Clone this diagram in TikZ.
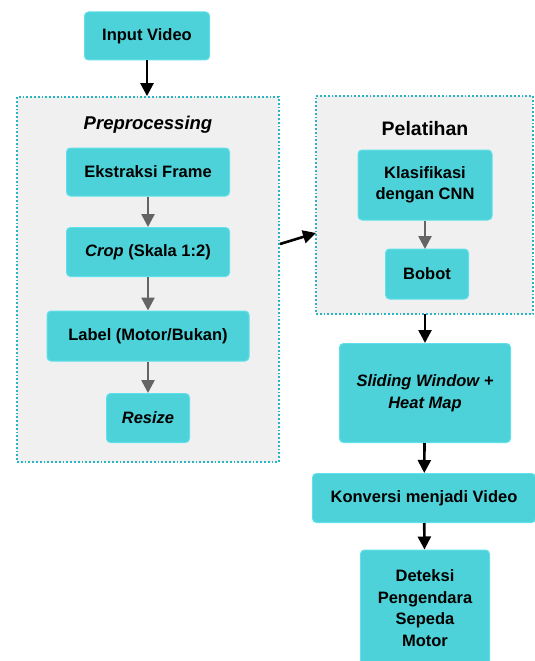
\documentclass[tikz,border=0pt]{standalone}
\usepackage{fontspec}
\setmainfont{Liberation Sans}
\usetikzlibrary{arrows.meta, positioning}
\definecolor{boxteal}{RGB}{76,210,216}
\definecolor{boxedge}{RGB}{96,224,234}
\definecolor{groupgray}{RGB}{240,240,240}
\definecolor{groupedge}{RGB}{40,180,195}
\definecolor{innerarrow}{RGB}{100,100,100}

\begin{document}
\begin{tikzpicture}[x=1pt, y=-1pt,
  procbox/.style={draw=boxedge, fill=boxteal, rounded corners=4pt, line width=1pt,
    align=center, inner sep=0pt, font=\bfseries\fontsize{16.5}{21.5}\selectfont},
  groupbox/.style={draw=groupedge, fill=groupgray, dotted, line width=1.8pt, inner sep=0pt},
  mainarrow/.style={-{Triangle[length=13pt, width=13pt]}, line width=2.6pt, black},
  subarrow/.style={-{Triangle[length=13pt, width=13pt]}, line width=2.6pt, innerarrow}]
\useasboundingbox (0,0) rectangle (535,661);
\fill[white] (0,0) rectangle (535,661);

% Groups
\node[groupbox, minimum width=262pt, minimum height=365pt] (pregroup) at (148,279.5) {};
\node[groupbox, minimum width=217pt, minimum height=218pt] (traingroup) at (424.5,205) {};
\node[font=\bfseries\itshape\fontsize{18.5}{22}\selectfont] (prelabel) at (148,125) {Preprocessing};
\node[font=\bfseries\fontsize{19.5}{22}\selectfont] (trainlabel) at (425,129) {Pelatihan};
\coordinate (preout) at (280,244);
\coordinate (trainin) at (316,233);
\coordinate (bobotin) at (425,249);
\coordinate (trainout) at (425,314);

% Nodes
\node[procbox, minimum width=125pt, minimum height=48pt] (input) at (147,36) {Input Video};
\node[procbox, minimum width=163pt, minimum height=48pt] (extract) at (148,172) {Ekstraksi Frame};
\node[procbox, minimum width=163pt, minimum height=49pt] (crop) at (148,252) {\textit{Crop} (Skala 1:2)};
\node[procbox, minimum width=202pt, minimum height=50pt] (label) at (148,336) {Label (Motor/Bukan)};
\node[procbox, minimum width=83pt, minimum height=49pt] (resize) at (148,418) {\textit{Resize}};
\node[procbox, minimum width=134pt, minimum height=70pt] (cnn) at (425,185) {Klasifikasi\\dengan CNN};
\node[procbox, minimum width=83pt, minimum height=50pt] (bobot) at (427,274) {Bobot};
\node[procbox, minimum width=171pt, minimum height=99pt] (sliding) at (425,393) {\textit{Sliding Window +}\\\textit{Heat Map}};
\node[procbox, minimum width=223pt, minimum height=49pt] (convert) at (424,498) {Konversi menjadi Video};
\node[procbox, minimum width=129pt, minimum height=116pt] (detect) at (425,608) {Deteksi\\Pengendara\\Sepeda\\Motor};

% Arrows
\draw[mainarrow] (input) -- (input |- pregroup.north);
\draw[subarrow] (extract) -- (crop);
\draw[subarrow] (crop) -- (label);
\draw[subarrow] (label) -- (resize);
\draw[mainarrow] (preout) -- (trainin);
\draw[subarrow] (cnn) -- (bobotin);
\draw[mainarrow] (trainout) -- (sliding);
\draw[mainarrow] (sliding) -- (convert);
\draw[mainarrow] (convert) -- (detect);
\end{tikzpicture}
\end{document}
